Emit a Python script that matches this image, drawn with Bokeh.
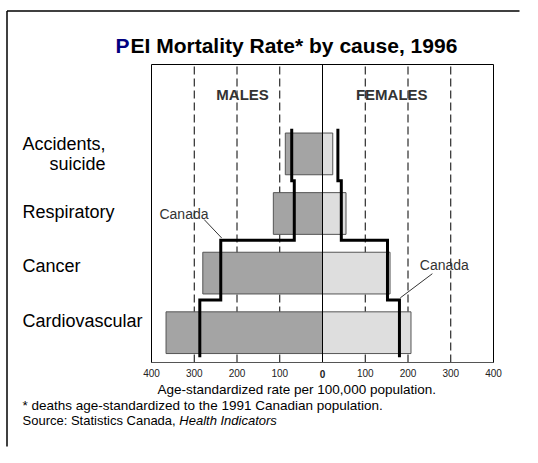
from bokeh.plotting import figure
from bokeh.models import Range1d, FixedTicker, Label, LinearAxis
from bokeh.embed import file_html
from bokeh.resources import INLINE

# ---- data ----
causes = ["Cardiovascular", "Cancer", "Respiratory", "Accidents, suicide"]
male_pei = [366, 280, 115, 87]
female_pei = [207, 158, 55, 24]
male_canada = [287, 238, 66, 72]
female_canada = [180, 152, 44, 36]
tick_values = [-400, -300, -200, -100, 0, 100, 200, 300, 400]
tick_labels = ["400", "300", "200", "100", "0", "100", "200", "300", "400"]
grid_values = [-300, -200, -100, 100, 200, 300]

FONT = "Liberation Sans"
W, H = 522, 447
# plot box in picture pixels
BL, BR, BT, BB = 151, 493, 64, 362
X0, X1, Y0, Y1 = -400, 400, 0, 5
kx = (BR - BL) / (X1 - X0)
ky = (BB - BT) / (Y1 - Y0)
xs, xe = X0 - BL / kx, X0 + (W - BL) / kx
yt, yb = Y1 + BT / ky, Y0 - (H - BB) / ky


def dx(X):
    return xs + X / kx


def dy(Y):
    return yt - Y / ky


centers = [i + 0.5 for i in range(len(causes))]

p = figure(width=W, height=H, output_backend="svg", toolbar_location=None,
           x_range=Range1d(xs, xe), y_range=Range1d(yb, yt),
           x_axis_location=None, y_axis_location=None, min_border=0)
p.min_border_left = p.min_border_right = p.min_border_top = p.min_border_bottom = 0
p.background_fill_color = "white"
p.border_fill_color = "white"
p.outline_line_color = None
p.grid.visible = False

# x axis fixed at the bottom of the plot box
ax = LinearAxis(fixed_location=Y0, bounds=(X0, X1))
ax.ticker = FixedTicker(ticks=tick_values)
ov = {v: t for v, t in zip(tick_values, tick_labels)}
ov[0] = ""
ax.major_label_overrides = ov
ax.major_tick_in = 0
ax.major_tick_out = 0
ax.minor_tick_in = 0
ax.minor_tick_out = 0
ax.axis_line_color = "#555555"
ax.major_label_text_font = FONT
ax.major_label_text_font_size = "10px"
ax.major_label_text_color = "#222222"
ax.major_label_standoff = 6
p.add_layout(ax, "below")

# dashed grid lines inside the plot box
p.segment(x0=grid_values, y0=Y0, x1=grid_values, y1=Y1,
          line_color="black", line_width=1, line_dash="8 4")

# bars
p.hbar(y=centers, left=[-v for v in male_pei], right=0, height=0.7,
       fill_color="#a4a4a4", line_color="#555555", line_width=1)
p.hbar(y=centers, left=0, right=female_pei, height=0.7,
       fill_color="#dedede", line_color="#555555", line_width=1)

# plot box and zero line
p.quad(left=X0, right=X1, bottom=Y0, top=Y1, fill_color=None,
       line_color="black", line_width=1)
p.segment(x0=0, y0=Y0, x1=0, y1=Y1, line_color="black", line_width=1)


def step_line(vals, sign):
    xx, yy = [], []
    n = len(vals)
    for i in reversed(range(n)):
        v = sign * vals[i]
        y_top = centers[i] + 0.42 if i == n - 1 else centers[i] + 0.55
        y_bot = centers[i] - 0.45 if i > 0 else centers[0] - 0.41
        xx += [v, v]
        yy += [y_top, y_bot]
    return xx, yy


mx, my = step_line(male_canada, -1)
fx, fy = step_line(female_canada, 1)
p.line(mx, my, line_color="black", line_width=3, line_join="miter")
p.line(fx, fy, line_color="black", line_width=3, line_join="miter")

# Canada pointers
p.segment(x0=[-277, 257], y0=[2.40, 1.49], x1=[-236, 182], y1=[2.09, 1.085],
          line_color="#333333", line_width=1)
for x, y in [(-324, 2.5), (285, 1.63)]:
    p.add_layout(Label(x=x, y=y, text="Canada", text_font=FONT, text_font_size="14px",
                       text_color="#333333", text_align="center", text_baseline="middle"))

# MALES / FEMALES
for x, t in [(-187, "MALES"), (162, "FEMALES")]:
    p.add_layout(Label(x=x, y=4.49, text=t, text_font=FONT, text_font_size="15px",
                       text_font_style="bold", text_color="#333333",
                       text_align="center", text_baseline="middle"))


def txt(X, Y, t, size, style="normal", color="black", align="left"):
    p.add_layout(Label(x=dx(X), y=dy(Y), text=t, text_font=FONT, text_font_size=size,
                       text_font_style=style, text_color=color,
                       text_align=align, text_baseline="middle"))


# bold zero tick label
txt((BL + BR) / 2, 373, "0", "10px", "bold", "#222222", "center")

# category labels (picture px positions)
cat_label_y = [320, 265, 211.7, 143.3]
for name, Y in zip(causes, cat_label_y):
    if ", " in name:
        a, b = name.split(", ")
        txt(22, Y, a + ",", "18px")
        txt(105, Y + 20, b, "18px", align="right")
    else:
        txt(22, Y, name, "18px")

# title
txt(115, 45, "P", "21px", "bold", "#000080")
txt(115 + 15, 45, "EI Mortality Rate* by cause, 1996", "21px", "bold")

# axis title and notes
txt(157, 388.5, "Age-standardized rate per 100,000 population.", "13.5px")
txt(22, 404.5, "* deaths age-standardized to the 1991 Canadian population.", "13.5px")
src = "Source: Statistics Canada, "
txt(22, 419.5, src, "13px")
txt(22 + 12.061 * 13, 419.5, "Health Indicators", "13px", "italic")

# outer page border (left and top sides)
p.segment(x0=[dx(6.5), dx(6.5)], y0=[dy(H - 1), dy(10.5)],
          x1=[dx(6.5), dx(W - 3)], y1=[dy(10.5), dy(10.5)],
          line_color="black", line_width=1.5)

open("out.html", "w").write(file_html(p, INLINE))
